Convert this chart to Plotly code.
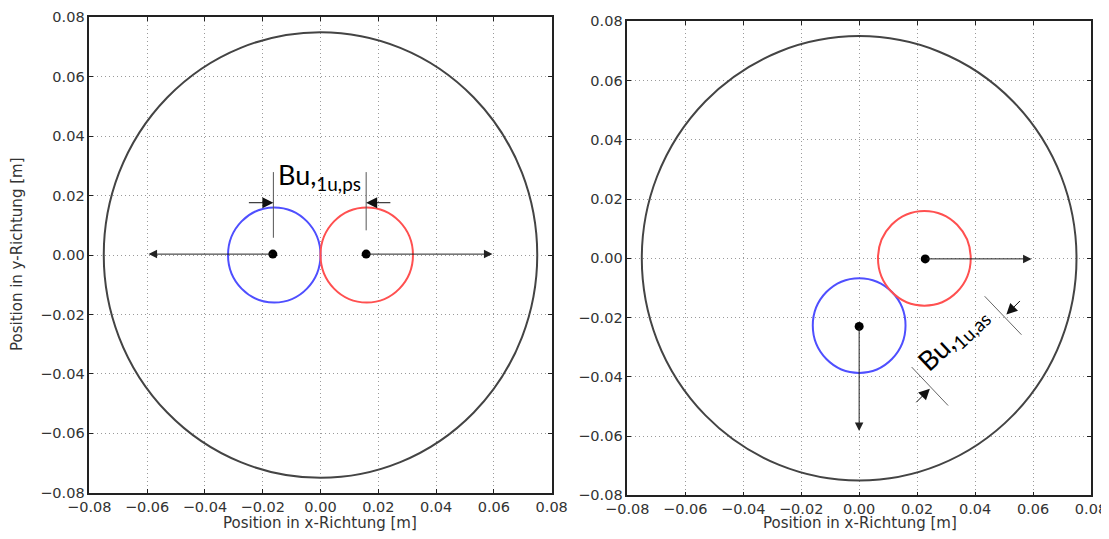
import plotly.graph_objects as go

# ---------------- data ----------------
tick_vals = [-0.08, -0.06, -0.04, -0.02, 0.0, 0.02, 0.04, 0.06, 0.08]
tick_labels = ["\u22120.08", "\u22120.06", "\u22120.04", "\u22120.02", "0.00", "0.02", "0.04", "0.06", "0.08"]

outer_radius = 0.075
pipe_radius = 0.016

# left panel (ps)
left_circle_x = [-0.016, 0.016]
left_circle_y = [0.0, 0.0]
left_circle_colors = ["#4f4fff", "#ff5050"]
left_dot_x = [-0.0165, 0.0158]
left_dot_y = [0.0003, 0.0003]
left_tip_x = [-0.0595, 0.0595]
left_tip_y = [0.0003, 0.0003]
left_dim_line_x = [-0.0163, 0.0158]
left_dim_line_y0 = [0.0058, 0.0083]
left_dim_line_y1 = [0.0279, 0.0279]
left_dim_tail_x = [-0.0253, 0.0247]
left_dim_head_x = [-0.0163, 0.0158]
left_dim_y = [0.0176, 0.0176]

# right panel (as)
right_circle_x = [0.0, 0.0225]
right_circle_y = [-0.0227, 0.0]
right_circle_colors = ["#4f4fff", "#ff5050"]
right_dot_x = [0.0, 0.0228]
right_dot_y = [-0.023, -0.0002]
right_tip_x = [0.0, 0.0595]
right_tip_y = [-0.0583, -0.0002]
right_dim_line_x0 = [0.0433, 0.0181]
right_dim_line_y0 = [-0.0128, -0.0367]
right_dim_line_x1 = [0.0560, 0.0307]
right_dim_line_y1 = [-0.0258, -0.0497]
right_dim_tail_x = [0.0560, 0.0192]
right_dim_tail_y = [-0.0139, -0.0491]
right_dim_head_x = [0.0508, 0.0244]
right_dim_head_y = [-0.0190, -0.0440]

label_left = "Bu,<sub>1u,ps</sub>"
label_left_pos = (-0.0002, 0.0264)
label_right = "Bu,<sub>1u,as</sub>"
label_right_pos = (0.0324, -0.0270)

x_title = "Position in x-Richtung [m]"
y_title = "Position in y-Richtung [m]"

# ---------------- figure ----------------
# the page body has an 8px margin, so the figure is sized/positioned to compensate
W, H, OFF = 1101, 523, 8


def px_x(X):
    return (X - OFF) / W


def px_y(Y):
    return 1 - (Y - OFF) / H


fig = go.Figure()

fig.add_trace(go.Scatter(x=left_dot_x, y=left_dot_y, mode="markers",
                         marker=dict(color="black", size=9), xaxis="x", yaxis="y",
                         showlegend=False, hoverinfo="skip"))
fig.add_trace(go.Scatter(x=right_dot_x, y=right_dot_y, mode="markers",
                         marker=dict(color="black", size=9), xaxis="x2", yaxis="y2",
                         showlegend=False, hoverinfo="skip"))

shapes = []
annotations = []


def circle(xr, yr, cx, cy, r, color, width):
    return dict(type="circle", xref=xr, yref=yr, x0=cx - r, x1=cx + r,
                y0=cy - r, y1=cy + r, line=dict(color=color, width=width), layer="above")


def arrow(xr, yr, tx, ty, hx, hy, size, color="#222"):
    return dict(x=hx, y=hy, ax=tx, ay=ty, xref=xr, yref=yr, axref=xr, ayref=yr,
                text="", showarrow=True, arrowhead=2, arrowsize=size, arrowwidth=1,
                arrowcolor=color, standoff=0, startstandoff=0)


shapes.append(circle("x", "y", 0, 0, outer_radius, "#444444", 2))
shapes.append(circle("x2", "y2", 0, 0, outer_radius, "#444444", 2))
for cx, cy, c in zip(left_circle_x, left_circle_y, left_circle_colors):
    shapes.append(circle("x", "y", cx, cy, pipe_radius, c, 2))
for cx, cy, c in zip(right_circle_x, right_circle_y, right_circle_colors):
    shapes.append(circle("x2", "y2", cx, cy, pipe_radius, c, 2))

for dx, dy, tx, ty in zip(left_dot_x, left_dot_y, left_tip_x, left_tip_y):
    annotations.append(arrow("x", "y", dx, dy, tx, ty, 1.7))
for dx, dy, tx, ty in zip(right_dot_x, right_dot_y, right_tip_x, right_tip_y):
    annotations.append(arrow("x2", "y2", dx, dy, tx, ty, 1.7))

for x, y0, y1 in zip(left_dim_line_x, left_dim_line_y0, left_dim_line_y1):
    shapes.append(dict(type="line", xref="x", yref="y", x0=x, x1=x, y0=y0, y1=y1,
                       line=dict(color="#555", width=1), layer="above"))
for tx, hx, y in zip(left_dim_tail_x, left_dim_head_x, left_dim_y):
    annotations.append(arrow("x", "y", tx, y, hx, y, 2.2, "#111"))

for x0, y0, x1, y1 in zip(right_dim_line_x0, right_dim_line_y0, right_dim_line_x1, right_dim_line_y1):
    shapes.append(dict(type="line", xref="x2", yref="y2", x0=x0, x1=x1, y0=y0, y1=y1,
                       line=dict(color="#666", width=1), layer="above"))
for tx, ty, hx, hy in zip(right_dim_tail_x, right_dim_tail_y, right_dim_head_x, right_dim_head_y):
    annotations.append(arrow("x2", "y2", tx, ty, hx, hy, 2.2, "#111"))

label_font = dict(family="Lato, Open Sans, sans-serif", size=27, color="black")
annotations.append(dict(x=label_left_pos[0], y=label_left_pos[1], xref="x", yref="y",
                        text=label_left, showarrow=False, font=label_font))
annotations.append(dict(x=label_right_pos[0], y=label_right_pos[1], xref="x2", yref="y2",
                        text=label_right, showarrow=False, textangle=-43, font=label_font))

title_font = dict(family="DejaVu Sans", size=15, color="#333")
annotations.append(dict(x=px_x(320), y=px_y(522.5), xref="paper", yref="paper",
                        xanchor="center", yanchor="middle",
                        text=x_title, showarrow=False, font=title_font))
annotations.append(dict(x=px_x(860), y=px_y(522.5), xref="paper", yref="paper",
                        xanchor="center", yanchor="middle",
                        text=x_title, showarrow=False, font=title_font))
annotations.append(dict(x=px_x(17), y=px_y(255), xref="paper", yref="paper",
                        xanchor="center", yanchor="middle",
                        text=y_title, showarrow=False, textangle=-90, font=title_font))

axis_common = dict(range=[-0.08, 0.08], tickmode="array", tickvals=tick_vals, ticktext=tick_labels,
                   showgrid=True, gridcolor="#9a9a9a", griddash="1px,3px", gridwidth=1,
                   zeroline=False, showline=True, linecolor="#222", linewidth=1.5, mirror="ticks",
                   ticks="inside", ticklen=4, tickcolor="#222", automargin=False,
                   ticklabeloverflow="allow",
                   tickfont=dict(family="DejaVu Sans", size=14.5, color="#333"), fixedrange=True)

fig.update_layout(
    width=W, height=H,
    margin=dict(l=0, r=0, t=0, b=0),
    paper_bgcolor="white", plot_bgcolor="white",
    template="none",
    showlegend=False,
    xaxis=dict(domain=[px_x(89.3), px_x(551.7)], anchor="y", **axis_common),
    yaxis=dict(domain=[px_y(492.7), px_y(17.3)], anchor="x", **axis_common),
    xaxis2=dict(domain=[px_x(627.3), px_x(1091)], anchor="y2", **axis_common),
    yaxis2=dict(domain=[px_y(495.3), px_y(21.3)], anchor="x2", **axis_common),
    shapes=shapes,
    annotations=annotations,
)

fig.write_html("out.html")
